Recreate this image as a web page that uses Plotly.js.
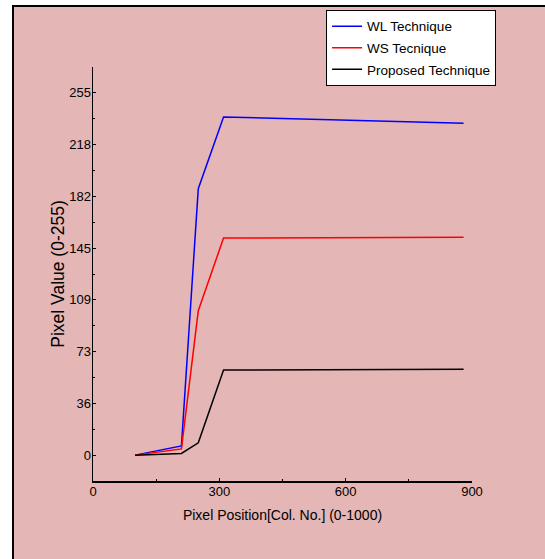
<!DOCTYPE html>
<html>
<head>
<meta charset="utf-8">
<script src="https://cdn.plot.ly/plotly-3.0.1.min.js"></script>
<style>
  html, body { margin: 0; padding: 0; background: #ffffff; width: 545px; height: 559px; overflow: hidden; }
  #frame { position: absolute; left: 12px; top: 5px; width: 531px; height: 552px;
           border-left: 2px solid #000; border-top: 2px solid #000; background: #e4b6b6; }
  #chart { width: 531px; height: 552px; }
</style>
</head>
<body>
<div id="frame"><div id="chart"></div></div>
<script>
// Data
const colPositions = [100, 210, 250, 310, 880];
const wlValues = [0, 6.5, 187.5, 238, 233.6];
const wsValues = [0, 4.4, 101.6, 152.8, 153.3];
const proposedValues = [0, 1.2, 8.7, 59.9, 60.4];
const seriesNames = ["WL Technique", "WS Tecnique", "Proposed Technique"];
const yTickVals = [0, 36.43, 72.86, 109.29, 145.71, 182.14, 218.57, 255];
const yTickText = ["0", "36", "73", "109", "145", "182", "218", "255"];
const yMinorVals = [18.21, 54.64, 91.07, 127.5, 163.93, 200.36, 236.79];
const xTickVals = [0, 300, 600, 900];
const xMinorVals = [150, 450, 750];

const sans = "'Liberation Sans', Arial, sans-serif";

const traces = [
  { x: colPositions, y: wlValues, name: seriesNames[0], legendgroup: "a", mode: "lines", line: { color: "#0000ff", width: 1.5 } },
  { x: colPositions, y: wsValues, name: seriesNames[1], legendgroup: "b", mode: "lines", line: { color: "#ff0000", width: 1.5 } },
  { x: colPositions, y: proposedValues, name: seriesNames[2], legendgroup: "c", mode: "lines", line: { color: "#000000", width: 1.5 } }
];

const layout = {
  width: 531, height: 552,
  paper_bgcolor: "#e4b6b6",
  plot_bgcolor: "#e4b6b6",
  margin: { l: 79, r: 73, t: 60, b: 78, autoexpand: false },
  showlegend: true,
  legend: {
    x: 0.615, y: 1.138, xanchor: "left", yanchor: "top",
    bgcolor: "#ffffff", bordercolor: "#000000", borderwidth: 1,
    font: { family: sans, size: 13.5, color: "#000" },
    tracegroupgap: 1
  },
  xaxis: {
    range: [0, 900],
    tickmode: "array", tickvals: xTickVals,
    showgrid: false, zeroline: false,
    showline: true, linecolor: "#000", linewidth: 1.5,
    ticks: "inside", ticklen: 3, tickcolor: "#000",
    ticklabelstandoff: -2,
    minor: { tickmode: "array", tickvals: xMinorVals, ticks: "inside", ticklen: 2, tickcolor: "#000" },
    tickfont: { family: sans, size: 13, color: "#000" },
    title: { text: "Pixel Position[Col. No.] (0-1000)", font: { family: sans, size: 14, color: "#000" }, standoff: 12 }
  },
  yaxis: {
    range: [-18.21, 273.21],
    tickmode: "array", tickvals: yTickVals, ticktext: yTickText,
    showgrid: false, zeroline: false,
    showline: true, linecolor: "#000", linewidth: 1.5,
    ticks: "inside", ticklen: 3, tickcolor: "#000",
    ticklabelstandoff: -2,
    minor: { tickmode: "array", tickvals: yMinorVals, ticks: "inside", ticklen: 2, tickcolor: "#000" },
    tickfont: { family: sans, size: 13, color: "#000" },
    title: { text: "Pixel Value (0-255)", font: { family: sans, size: 17.5, color: "#000" }, standoff: 0 }
  }
};

Plotly.newPlot("chart", traces, layout, { displayModeBar: false, staticPlot: true });
</script>
</body>
</html>
